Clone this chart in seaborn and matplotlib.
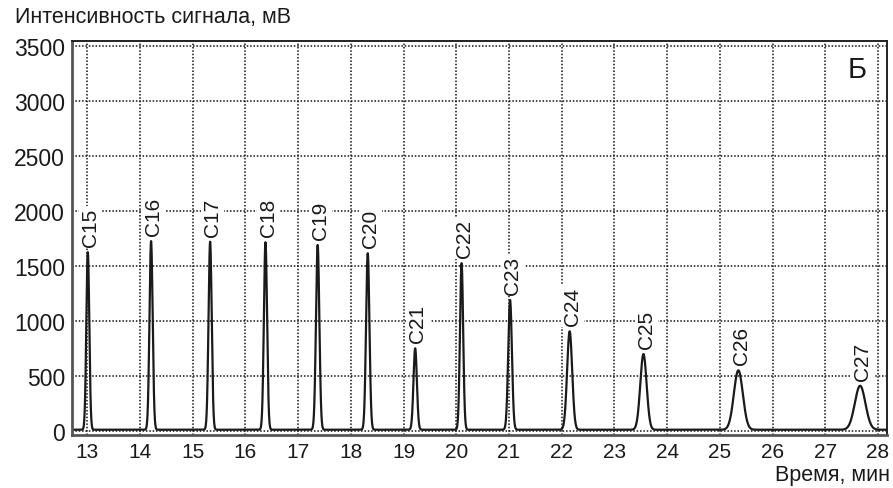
import numpy as np
import pandas as pd
import matplotlib
matplotlib.use("Agg")
import matplotlib.pyplot as plt
import seaborn as sns

# Peak data
compounds = ["C15", "C16", "C17", "C18", "C19", "C20", "C21",
             "C22", "C23", "C24", "C25", "C26", "C27"]
ret_times = [13.01, 14.21, 15.33, 16.38, 17.37, 18.32, 19.22,
             20.10, 21.02, 22.15, 23.55, 25.35, 27.66]
heights = [1615, 1715, 1710, 1705, 1680, 1605, 740,
           1515, 1180, 895, 688, 540, 400]
widths = [0.028, 0.030, 0.030, 0.030, 0.032, 0.032, 0.032,
          0.030, 0.035, 0.048, 0.060, 0.085, 0.100]
baseline_level = 8
x_ticks = list(range(13, 29))
y_ticks = [0, 500, 1000, 1500, 2000, 2500, 3000, 3500]

# Build the signal trace from the peak table
t = np.linspace(12.72, 28.16, 8000)
signal = np.full_like(t, float(baseline_level))
for rt, h, w in zip(ret_times, heights, widths):
    signal += h * np.exp(-0.5 * ((t - rt) / w) ** 2)
df = pd.DataFrame({"time": t, "signal": signal})

sns.set_theme(style="white")
plt.rcParams["font.family"] = ["Liberation Sans", "DejaVu Sans"]

fig = plt.figure(figsize=(8.93, 4.89), dpi=100)
ax = fig.add_axes([72 / 893, 1 - 436 / 489, (887 - 72) / 893, (436 - 42) / 489])

sns.lineplot(data=df, x="time", y="signal", ax=ax, color="#1a1a1a",
             linewidth=1.6, estimator=None, sort=False)

ax.set_xlim(12.71, 28.17)
ax.set_ylim(-40, 3543)
ax.set_xticks(x_ticks)
ax.set_yticks(y_ticks)
ax.set_xticklabels([str(v) for v in x_ticks])
ax.set_yticklabels([str(v) for v in y_ticks])
ax.tick_params(axis="y", labelsize=16.5, colors="#1a1a1a", length=3,
               width=1, direction="out", pad=2)
ax.tick_params(axis="x", labelsize=15, colors="#1a1a1a", length=3,
               width=1, direction="out", pad=2)

ax.grid(True, color="#111111", linestyle=(0, (1, 1.2)), linewidth=1.1)
ax.set_axisbelow(True)

for side in ["left", "bottom"]:
    ax.spines[side].set_color("#555555")
    ax.spines[side].set_linewidth(2.0)
for side in ["top", "right"]:
    ax.spines[side].set_color("#222222")
    ax.spines[side].set_linewidth(1.4)

ax.set_xlabel("")
ax.set_ylabel("")

for name, rt, h in zip(compounds, ret_times, heights):
    ax.annotate(name, xy=(rt, h), xytext=(2, 5), textcoords="offset points",
                rotation=90, ha="center", va="bottom", fontsize=15,
                color="#1a1a1a",
                bbox=dict(boxstyle="square,pad=0.1", fc="white", ec="none"))

ax.text(0.963, 0.93, "Б", transform=ax.transAxes, ha="center", va="center",
        fontsize=21, color="#1a1a1a")

fig.text(15 / 893, 1 - 7 / 489, "Интенсивность сигнала, мВ", ha="left",
         va="top", fontsize=15.5, color="#1a1a1a")
fig.text(890 / 893, 1 - 481 / 489, "Время, мин", ha="right", va="baseline",
         fontsize=15.5, color="#1a1a1a")

fig.savefig("out.png", dpi=100, facecolor="white")
